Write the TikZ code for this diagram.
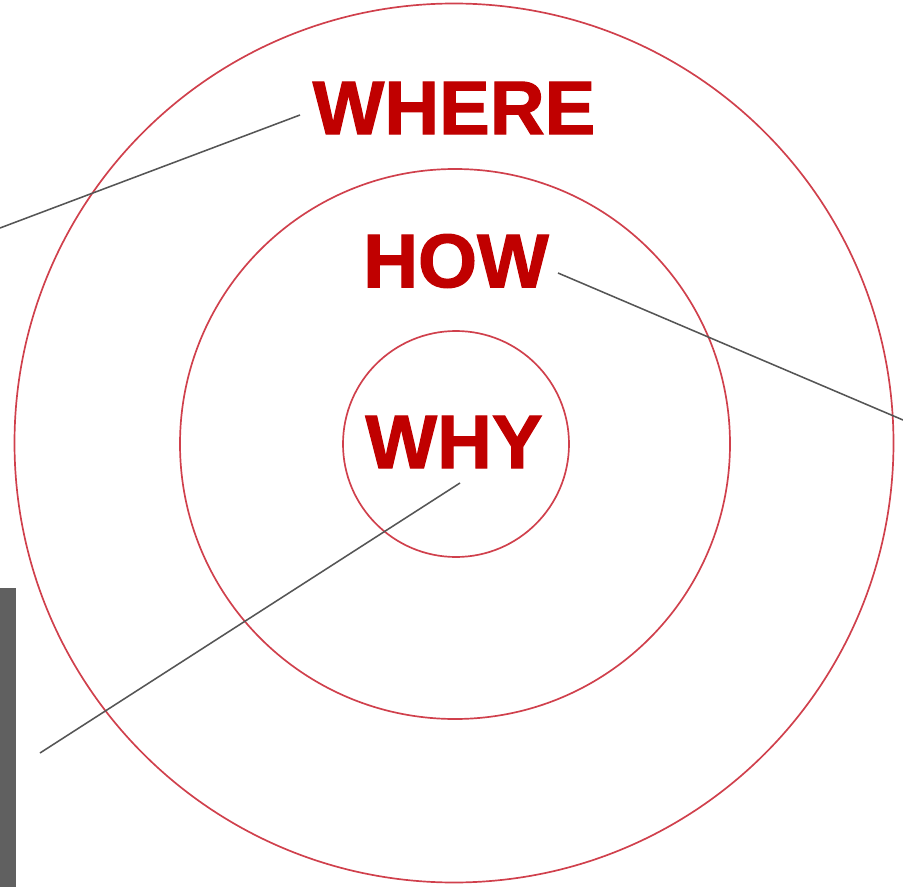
\documentclass[tikz,border=0pt]{standalone}
\usepackage{fontspec}
\setmainfont{Liberation Sans}
\newfontfamily\wordfont[FakeBold=1.6]{Liberation Sans Bold}
\usepackage{xcolor}
\definecolor{ringred}{HTML}{D0404C}
\definecolor{wordred}{HTML}{C00000}
\definecolor{leadgray}{HTML}{555555}
\definecolor{barGray}{HTML}{606060}
\tikzset{
ring/.style={draw=ringred,line width=1.2pt},
word/.style={text=wordred,font=\fontsize{54}{54}\wordfont,inner sep=1pt},
leader/.style={draw=leadgray,line width=1.1pt}
}
\begin{document}
\begin{tikzpicture}[x=0.025cm,y=-0.025cm]
\useasboundingbox (0,0) rectangle (903,887);
%\draw[help lines] (0,0) grid[step=100] (903,887);
\fill[barGray](0,588)rectangle(16,887);
\draw[ring](454,443)circle[radius=439.5];
\draw[ring](455,444)circle[radius=275];
\draw[ring](456,444)circle[radius=113];
\node[word](where) at (454,108){WHERE};
\node[word](how) at (456,261){HOW};
\node[word](why) at (454,442){WHY};
\coordinate (whereStart) at (300,115);
\coordinate (whereEnd) at (0,228);
\coordinate (howStart) at (558,273);
\coordinate (howEnd) at (903,420);
\coordinate (whyStart) at (460,483);
\coordinate (whyEnd) at (40,753);
\draw[leader](whereStart)--(whereEnd);
\draw[leader](howStart)--(howEnd);
\draw[leader](whyStart)--(whyEnd);
\end{tikzpicture}
\end{document}
